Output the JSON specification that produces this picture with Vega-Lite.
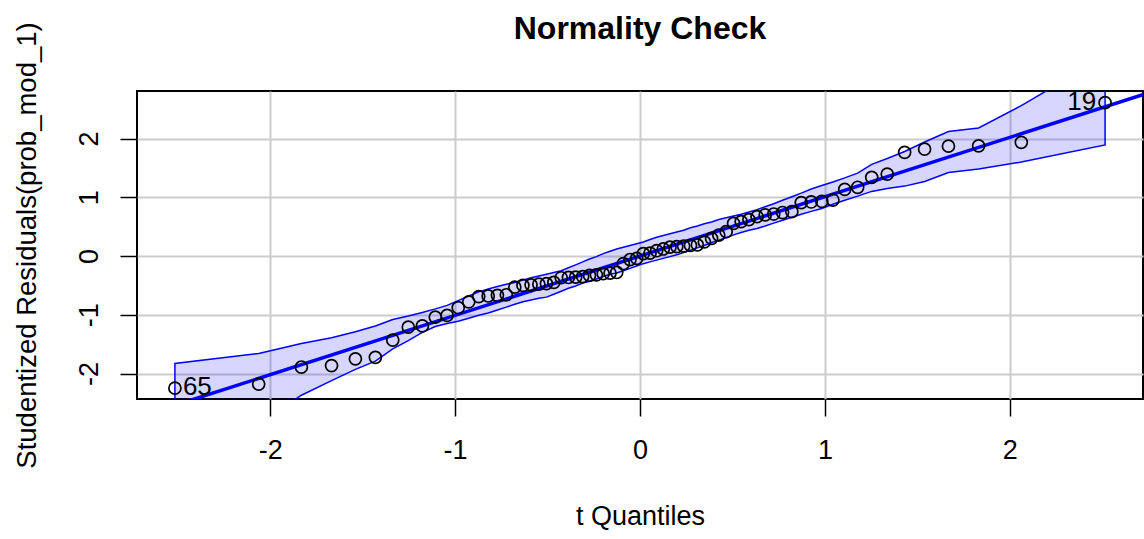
{
  "$schema": "https://vega.github.io/schema/vega-lite/v6.json",
  "width": 1006,
  "height": 308,
  "autosize": {"type": "none"},
  "padding": {"left": 137, "top": 91, "right": 1, "bottom": 140},
  "background": "white",
  "title": {"text": "Normality Check", "font": "Liberation Sans", "fontSize": 32, "fontWeight": "bold", "anchor": "middle", "baseline": "alphabetic", "offset": -49, "color": "black"},
  "config": {
    "view": {"stroke": "black", "strokeWidth": 2},
    "axis": {"domain": false, "grid": true, "gridColor": "#cccccc", "gridWidth": 2, "tickColor": "black", "tickWidth": 1.5, "tickSize": 17, "labelFont": "Liberation Sans", "labelFontSize": 27, "labelColor": "black", "titleFont": "Liberation Sans", "titleFontSize": 27, "titleFontWeight": "normal", "titleColor": "black", "labelOverlap": false, "labelFlush": false, "labelBound": false, "labelExpr": "'' + datum.value"},
    "axisX": {"labelPadding": 21, "labelBaseline": "top", "labelAngle": 0, "titleY": 117, "titleBaseline": "middle", "titleX": 503, "titleAlign": "center"},
    "axisY": {"labelAngle": -90, "labelAlign": "center", "labelBaseline": "alphabetic", "labelPadding": 23, "titleX": -110, "titleY": 154, "titleAngle": -90, "titleBaseline": "middle", "titleAlign": "center", "titleFontSize": 27.5}
  },
  "datasets": {
    "pts": [
      {"t": -2.515, "r": -2.25, "lo": -3.3, "hi": -1.83, "id": "65"},
      {"t": -2.062, "r": -2.18, "lo": -2.85, "hi": -1.66, "id": ""},
      {"t": -1.831, "r": -1.89, "lo": -2.37, "hi": -1.49, "id": ""},
      {"t": -1.668, "r": -1.865, "lo": -2.12, "hi": -1.39, "id": ""},
      {"t": -1.539, "r": -1.75, "lo": -1.93, "hi": -1.29, "id": ""},
      {"t": -1.431, "r": -1.725, "lo": -1.79, "hi": -1.19, "id": ""},
      {"t": -1.337, "r": -1.43, "lo": -1.58, "hi": -1.08, "id": ""},
      {"t": -1.253, "r": -1.21, "lo": -1.44, "hi": -1.02, "id": ""},
      {"t": -1.177, "r": -1.19, "lo": -1.30, "hi": -0.96, "id": ""},
      {"t": -1.107, "r": -1.04, "lo": -1.20, "hi": -0.90, "id": ""},
      {"t": -1.043, "r": -1.01, "lo": -1.15, "hi": -0.84, "id": ""},
      {"t": -0.983, "r": -0.88, "lo": -1.11, "hi": -0.76, "id": ""},
      {"t": -0.926, "r": -0.78, "lo": -1.06, "hi": -0.68, "id": ""},
      {"t": -0.872, "r": -0.69, "lo": -1.01, "hi": -0.61, "id": ""},
      {"t": -0.821, "r": -0.68, "lo": -0.97, "hi": -0.56, "id": ""},
      {"t": -0.771, "r": -0.67, "lo": -0.92, "hi": -0.52, "id": ""},
      {"t": -0.723, "r": -0.66, "lo": -0.87, "hi": -0.48, "id": ""},
      {"t": -0.677, "r": -0.53, "lo": -0.82, "hi": -0.45, "id": ""},
      {"t": -0.633, "r": -0.50, "lo": -0.78, "hi": -0.41, "id": ""},
      {"t": -0.589, "r": -0.49, "lo": -0.75, "hi": -0.37, "id": ""},
      {"t": -0.547, "r": -0.48, "lo": -0.72, "hi": -0.34, "id": ""},
      {"t": -0.506, "r": -0.47, "lo": -0.70, "hi": -0.31, "id": ""},
      {"t": -0.466, "r": -0.45, "lo": -0.65, "hi": -0.28, "id": ""},
      {"t": -0.426, "r": -0.37, "lo": -0.60, "hi": -0.25, "id": ""},
      {"t": -0.387, "r": -0.365, "lo": -0.55, "hi": -0.20, "id": ""},
      {"t": -0.348, "r": -0.36, "lo": -0.51, "hi": -0.15, "id": ""},
      {"t": -0.310, "r": -0.35, "lo": -0.46, "hi": -0.10, "id": ""},
      {"t": -0.273, "r": -0.33, "lo": -0.43, "hi": -0.05, "id": ""},
      {"t": -0.236, "r": -0.32, "lo": -0.39, "hi": -0.01, "id": ""},
      {"t": -0.199, "r": -0.30, "lo": -0.35, "hi": 0.04, "id": ""},
      {"t": -0.162, "r": -0.29, "lo": -0.31, "hi": 0.08, "id": ""},
      {"t": -0.126, "r": -0.28, "lo": -0.29, "hi": 0.12, "id": ""},
      {"t": -0.090, "r": -0.13, "lo": -0.25, "hi": 0.15, "id": ""},
      {"t": -0.054, "r": -0.06, "lo": -0.21, "hi": 0.18, "id": ""},
      {"t": -0.018, "r": -0.04, "lo": -0.17, "hi": 0.21, "id": ""},
      {"t": 0.018, "r": 0.04, "lo": -0.13, "hi": 0.24, "id": ""},
      {"t": 0.054, "r": 0.05, "lo": -0.10, "hi": 0.28, "id": ""},
      {"t": 0.090, "r": 0.09, "lo": -0.07, "hi": 0.32, "id": ""},
      {"t": 0.126, "r": 0.12, "lo": -0.04, "hi": 0.35, "id": ""},
      {"t": 0.162, "r": 0.15, "lo": -0.01, "hi": 0.38, "id": ""},
      {"t": 0.199, "r": 0.16, "lo": 0.02, "hi": 0.41, "id": ""},
      {"t": 0.236, "r": 0.17, "lo": 0.06, "hi": 0.44, "id": ""},
      {"t": 0.273, "r": 0.18, "lo": 0.10, "hi": 0.48, "id": ""},
      {"t": 0.310, "r": 0.19, "lo": 0.14, "hi": 0.51, "id": ""},
      {"t": 0.348, "r": 0.24, "lo": 0.18, "hi": 0.55, "id": ""},
      {"t": 0.387, "r": 0.30, "lo": 0.23, "hi": 0.58, "id": ""},
      {"t": 0.426, "r": 0.357, "lo": 0.27, "hi": 0.62, "id": ""},
      {"t": 0.466, "r": 0.414, "lo": 0.31, "hi": 0.65, "id": ""},
      {"t": 0.506, "r": 0.556, "lo": 0.36, "hi": 0.68, "id": ""},
      {"t": 0.547, "r": 0.585, "lo": 0.40, "hi": 0.71, "id": ""},
      {"t": 0.589, "r": 0.62, "lo": 0.44, "hi": 0.75, "id": ""},
      {"t": 0.633, "r": 0.67, "lo": 0.47, "hi": 0.79, "id": ""},
      {"t": 0.677, "r": 0.70, "lo": 0.51, "hi": 0.84, "id": ""},
      {"t": 0.723, "r": 0.715, "lo": 0.56, "hi": 0.89, "id": ""},
      {"t": 0.771, "r": 0.74, "lo": 0.61, "hi": 0.95, "id": ""},
      {"t": 0.821, "r": 0.755, "lo": 0.66, "hi": 1.01, "id": ""},
      {"t": 0.872, "r": 0.91, "lo": 0.71, "hi": 1.07, "id": ""},
      {"t": 0.926, "r": 0.92, "lo": 0.76, "hi": 1.14, "id": ""},
      {"t": 0.983, "r": 0.93, "lo": 0.81, "hi": 1.20, "id": ""},
      {"t": 1.043, "r": 0.953, "lo": 0.88, "hi": 1.26, "id": ""},
      {"t": 1.107, "r": 1.135, "lo": 0.95, "hi": 1.33, "id": ""},
      {"t": 1.177, "r": 1.17, "lo": 1.02, "hi": 1.41, "id": ""},
      {"t": 1.253, "r": 1.34, "lo": 1.10, "hi": 1.56, "id": ""},
      {"t": 1.337, "r": 1.395, "lo": 1.15, "hi": 1.66, "id": ""},
      {"t": 1.431, "r": 1.765, "lo": 1.19, "hi": 1.78, "id": ""},
      {"t": 1.539, "r": 1.82, "lo": 1.27, "hi": 1.94, "id": ""},
      {"t": 1.668, "r": 1.87, "lo": 1.42, "hi": 2.12, "id": ""},
      {"t": 1.831, "r": 1.875, "lo": 1.48, "hi": 2.18, "id": ""},
      {"t": 2.062, "r": 1.935, "lo": 1.60, "hi": 2.56, "id": ""},
      {"t": 2.515, "r": 2.61, "lo": 1.89, "hi": 3.40, "id": "19"}
    ],
    "ref": [
      {"t": -2.9, "f": -2.929},
      {"t": 2.9, "f": 2.929}
    ]
  },
  "layer": [
    {
      "data": {"name": "pts"},
      "mark": {"type": "area", "clip": true, "fill": "#0000ff", "fillOpacity": 0.16, "stroke": "#0000ff", "strokeWidth": 1.5},
      "encoding": {
        "x": {"field": "t", "type": "quantitative", "scale": {"domain": [-2.72, 2.72], "nice": false, "zero": false}, "title": "t Quantiles", "axis": {"values": [-2, -1, 0, 1, 2]}},
        "y": {"field": "lo", "type": "quantitative", "scale": {"domain": [-2.434, 2.809], "nice": false, "zero": false}, "title": "Studentized Residuals(prob_mod_1)", "axis": {"values": [-2, -1, 0, 1, 2]}},
        "y2": {"field": "hi"}
      }
    },
    {
      "data": {"name": "ref"},
      "mark": {"type": "line", "clip": true, "color": "#0000ff", "strokeWidth": 3.5},
      "encoding": {
        "x": {"field": "t", "type": "quantitative", "title": "t Quantiles"},
        "y": {"field": "f", "type": "quantitative", "title": "Studentized Residuals(prob_mod_1)"}
      }
    },
    {
      "data": {"name": "pts"},
      "mark": {"type": "point", "shape": "circle", "filled": false, "stroke": "black", "strokeWidth": 1.7, "size": 145, "opacity": 1},
      "encoding": {
        "x": {"field": "t", "type": "quantitative", "title": "t Quantiles"},
        "y": {"field": "r", "type": "quantitative", "title": "Studentized Residuals(prob_mod_1)"}
      }
    },
    {
      "data": {"name": "pts"},
      "transform": [{"filter": "datum.id == '65'"}],
      "mark": {"type": "text", "align": "left", "baseline": "middle", "dx": 8, "dy": -1, "font": "Liberation Sans", "fontSize": 26, "color": "black"},
      "encoding": {
        "x": {"field": "t", "type": "quantitative", "title": "t Quantiles"},
        "y": {"field": "r", "type": "quantitative", "title": "Studentized Residuals(prob_mod_1)"},
        "text": {"field": "id"}
      }
    },
    {
      "data": {"name": "pts"},
      "transform": [{"filter": "datum.id == '19'"}],
      "mark": {"type": "text", "align": "right", "baseline": "middle", "dx": -9, "dy": -1, "font": "Liberation Sans", "fontSize": 26, "color": "black"},
      "encoding": {
        "x": {"field": "t", "type": "quantitative", "title": "t Quantiles"},
        "y": {"field": "r", "type": "quantitative", "title": "Studentized Residuals(prob_mod_1)"},
        "text": {"field": "id"}
      }
    }
  ]
}
